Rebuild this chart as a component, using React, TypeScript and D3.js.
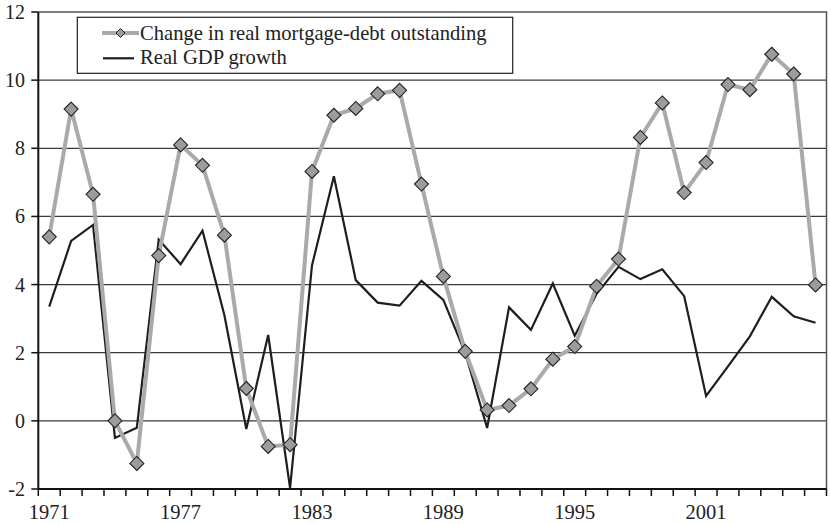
import React, { useEffect, useRef } from "react";
import * as d3 from "d3";

const years = d3.range(1971, 2007);

const mortgageDebt = [
  5.4, 9.15, 6.65, 0.0, -1.25, 4.85, 8.1, 7.5, 5.45, 0.95, -0.75, -0.7, 7.32,
  8.97, 9.17, 9.6, 9.7, 6.95, 4.24, 2.04, 0.32, 0.45, 0.94, 1.81, 2.18, 3.95,
  4.75, 8.32, 9.33, 6.7, 7.58, 9.87, 9.72, 10.76, 10.18, 3.99,
];

const gdpGrowth = [
  3.35, 5.28, 5.75, -0.5, -0.2, 5.32, 4.6, 5.58, 3.1, -0.24, 2.52, -1.97, 4.56,
  7.18, 4.13, 3.47, 3.38, 4.11, 3.55, 1.99, -0.21, 3.33, 2.67, 4.03, 2.5, 3.73,
  4.52, 4.16, 4.45, 3.66, 0.73, 1.6, 2.48, 3.64, 3.07, 2.88,
];

const yTicks = [-2, 0, 2, 4, 6, 8, 10, 12];
const xLabelYears = [1971, 1977, 1983, 1989, 1995, 2001];

const legendLabels = ["Change in real mortgage-debt outstanding", "Real GDP growth"];

const App = () => {
  const ref = useRef<SVGSVGElement>(null);

  useEffect(() => {
    const svg = d3.select(ref.current);
    svg.selectAll("*").remove();

    const left = 38.3;
    const right = 826.5;
    const top = 12;
    const bottom = 489;
    const font = "'Liberation Serif', 'Times New Roman', serif";

    const x = d3
      .scaleBand<number>()
      .domain(years)
      .range([left, right])
      .padding(0);
    const y = d3.scaleLinear().domain([-2, 12]).range([bottom, top]);
    const cx = (i: number) => x(years[i])! + x.bandwidth() / 2;

    // gridlines
    svg
      .append("g")
      .selectAll("line")
      .data(yTicks.filter((t) => t > -2 && t < 12))
      .join("line")
      .attr("x1", left)
      .attr("x2", right)
      .attr("y1", (d) => y(d))
      .attr("y2", (d) => y(d))
      .attr("stroke", "#3a3a3a")
      .attr("stroke-width", 1.3);

    // plot border top & right
    svg
      .append("path")
      .attr("d", `M${left},${y(12)}H${right}V${bottom}`)
      .attr("fill", "none")
      .attr("stroke", "#555")
      .attr("stroke-width", 1.5);

    // y axis
    const yAxis = svg.append("g");
    yAxis
      .append("line")
      .attr("x1", left)
      .attr("x2", left)
      .attr("y1", top)
      .attr("y2", bottom)
      .attr("stroke", "#111")
      .attr("stroke-width", 2);
    yAxis
      .selectAll("line.tick")
      .data(yTicks)
      .join("line")
      .attr("class", "tick")
      .attr("x1", left - 7)
      .attr("x2", left)
      .attr("y1", (d) => y(d))
      .attr("y2", (d) => y(d))
      .attr("stroke", "#111")
      .attr("stroke-width", 1.5);
    yAxis
      .selectAll("text")
      .data(yTicks)
      .join("text")
      .attr("x", 25)
      .attr("y", (d) => y(d) + 7)
      .attr("text-anchor", "end")
      .style("font-family", font)
      .style("font-size", "20px")
      .style("fill", "#222")
      .text((d) => d);

    // x axis
    const xAxis = svg.append("g");
    xAxis
      .append("line")
      .attr("x1", left)
      .attr("x2", right)
      .attr("y1", bottom)
      .attr("y2", bottom)
      .attr("stroke", "#111")
      .attr("stroke-width", 2);
    const boundaries = years.map((yr) => x(yr)!).concat([right]);
    xAxis
      .selectAll("line.tick")
      .data(boundaries)
      .join("line")
      .attr("class", "tick")
      .attr("x1", (d) => d)
      .attr("x2", (d) => d)
      .attr("y1", bottom)
      .attr("y2", bottom + 7)
      .attr("stroke", "#111")
      .attr("stroke-width", 1.5);
    xAxis
      .selectAll("text")
      .data(xLabelYears)
      .join("text")
      .attr("x", (d) => x(d)! + x.bandwidth() / 2)
      .attr("y", 519)
      .attr("text-anchor", "middle")
      .style("font-family", font)
      .style("font-size", "20.5px")
      .style("fill", "#222")
      .text((d) => d);

    // series
    const lineGen = d3
      .line<number>()
      .x((_, i) => cx(i))
      .y((d) => y(d));

    svg
      .append("path")
      .datum(gdpGrowth)
      .attr("d", lineGen)
      .attr("fill", "none")
      .attr("stroke", "#1e1e1e")
      .attr("stroke-width", 2.2)
      .attr("stroke-linejoin", "miter");

    svg
      .append("path")
      .datum(mortgageDebt)
      .attr("d", lineGen)
      .attr("fill", "none")
      .attr("stroke", "#aaaaaa")
      .attr("stroke-width", 4);

    const diamond = (px: number, py: number, r: number) =>
      `M${px},${py - r}L${px + r},${py}L${px},${py + r}L${px - r},${py}Z`;

    svg
      .append("g")
      .selectAll("path")
      .data(mortgageDebt)
      .join("path")
      .attr("d", (d, i) => diamond(cx(i), y(d), 7))
      .attr("fill", "#9c9c9c")
      .attr("stroke", "#222")
      .attr("stroke-width", 1.1);

    // legend
    const legend = svg.append("g");
    legend
      .append("rect")
      .attr("x", 77.3)
      .attr("y", 17.3)
      .attr("width", 435.4)
      .attr("height", 56)
      .attr("fill", "#fff")
      .attr("stroke", "#222")
      .attr("stroke-width", 1.2);

    legend
      .append("line")
      .attr("x1", 102)
      .attr("x2", 139)
      .attr("y1", 33)
      .attr("y2", 33)
      .attr("stroke", "#aaaaaa")
      .attr("stroke-width", 4);
    legend
      .append("path")
      .attr("d", diamond(120.5, 33, 4.5))
      .attr("fill", "#9c9c9c")
      .attr("stroke", "#222")
      .attr("stroke-width", 1);
    legend
      .append("line")
      .attr("x1", 103)
      .attr("x2", 134)
      .attr("y1", 58.3)
      .attr("y2", 58.3)
      .attr("stroke", "#1e1e1e")
      .attr("stroke-width", 2.2);

    legend
      .selectAll("text")
      .data(legendLabels)
      .join("text")
      .attr("x", 140)
      .attr("y", (_, i) => 39.5 + i * 24.5)
      .style("font-family", font)
      .style("font-size", "20.6px")
      .style("fill", "#222")
      .text((d) => d);
  }, []);

  return (
    <svg
      ref={ref}
      width={830}
      height={524}
      style={{ position: "absolute", left: 0, top: 0, background: "#fff" }}
    />
  );
};

export default App;
